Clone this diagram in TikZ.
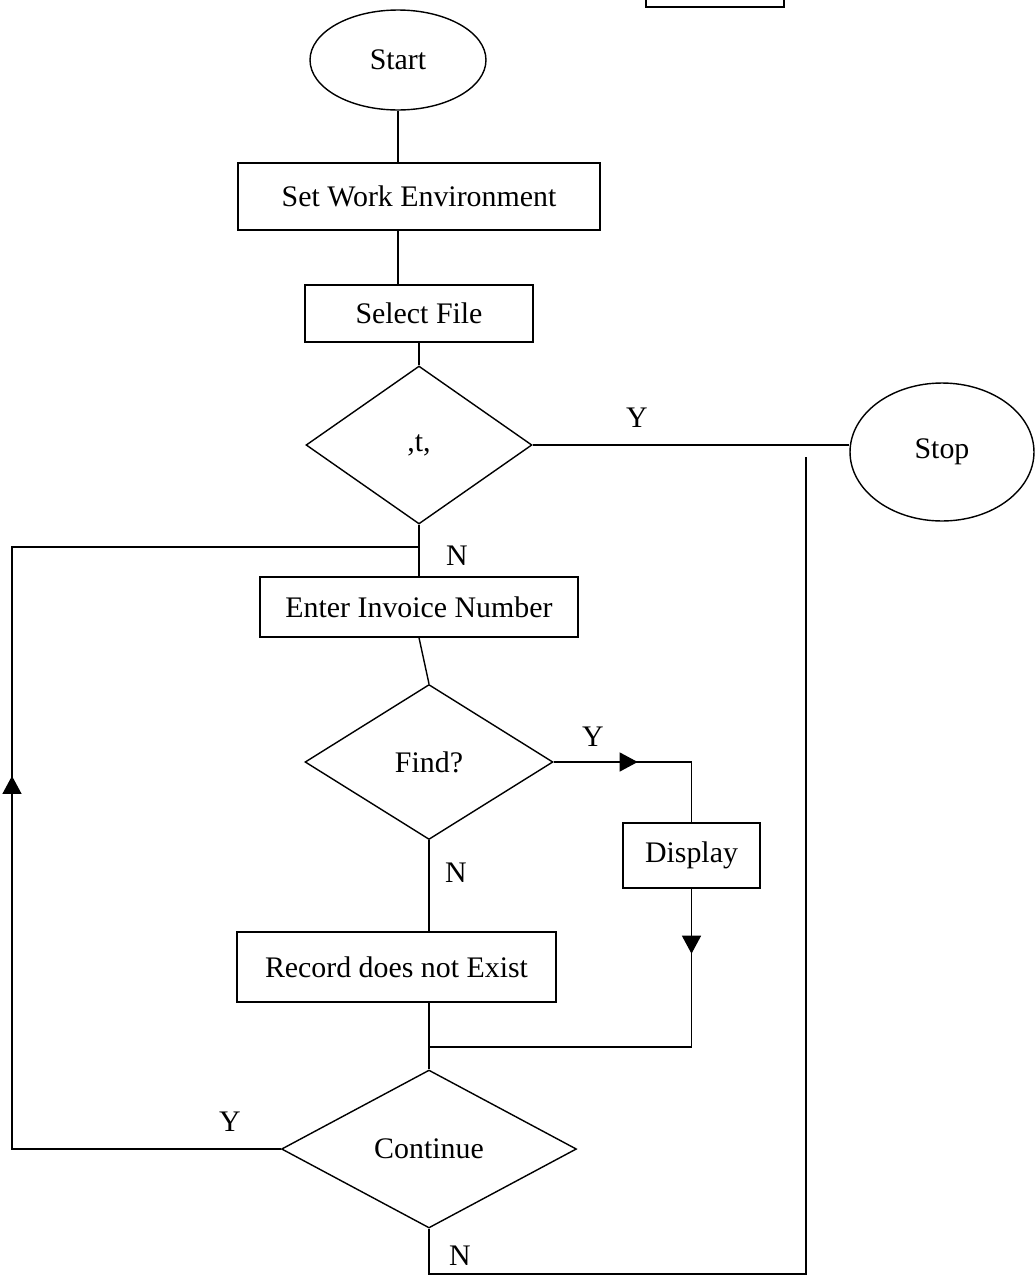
\documentclass[tikz,border=0pt]{standalone}
\usepackage{fontspec}
\setmainfont{Liberation Serif}
\usetikzlibrary{shapes.geometric,arrows.meta,decorations.markings}
\begin{document}
\begin{tikzpicture}[x=0.02cm,y=-0.02cm,
  line width=0.8pt,
  every node/.style={font=\fontsize{17}{20}\selectfont},
  boxnode/.style={draw,rectangle,inner sep=0pt},
  termnode/.style={draw,ellipse,inner sep=0pt},
  decnode/.style={draw,diamond,inner sep=0pt},
  lbl/.style={inner sep=0pt},
  arrowat/.style={postaction={decorate,decoration={markings,
     mark=at position #1 with {\arrow{Triangle[length=0.36cm,width=0.38cm]}}}}}
]
\useasboundingbox (0,0) rectangle (1035,1278);
\clip (0,0) rectangle (1035,1278);
\fill[white] (0,0) rectangle (1035,1278);

% partial box at top
\node[boxnode,minimum width=2.76cm,minimum height=1.2cm] (topbox) at (715,-23) {};

\node[termnode,minimum width=3.52cm,minimum height=2cm] (start) at (398,60) {Start};
\node[boxnode,minimum width=7.24cm,minimum height=1.34cm] (setwork) at (419,196.5) {Set Work Environment};
\node[boxnode,minimum width=4.56cm,minimum height=1.14cm] (select) at (419,313.5) {Select File};
\node[decnode,minimum width=4.52cm,minimum height=3.16cm] (d1) at (419,445) {,t,};
\node[termnode,minimum width=3.68cm,minimum height=2.76cm] (stop) at (942,452) {Stop};
\node[boxnode,minimum width=6.36cm,minimum height=1.2cm] (enter) at (419,607) {Enter Invoice Number};
\node[decnode,minimum width=4.96cm,minimum height=3.1cm] (find) at (429,762) {Find?};
\node[boxnode,minimum width=2.74cm,minimum height=1.3cm] (display) at (691.5,855.5) {Display};
\node[boxnode,minimum width=6.38cm,minimum height=1.4cm] (record) at (396.5,967) {Record does not Exist};
\node[decnode,minimum width=5.9cm,minimum height=3.16cm] (cont) at (429,1149) {Continue};

% coordinates for bends
\coordinate (loopend) at (419,547);
\coordinate (leftbot) at (12,1149);
\coordinate (lefttop) at (12,547);
\coordinate (merge) at (429,1047);
\coordinate (rbot) at (806,1274);
\coordinate (rtop) at (806,457);

% connectors
\draw (start.south) -- (start.south |- setwork.north);
\draw (setwork.south -| start.south) -- (select.north -| start.south);
\draw (select.south) -- (d1.north);
\draw (d1.east) -- (d1.east -| stop.west);
\draw (d1.south) -- (enter.north);
\draw (enter.south) -- (find.north);
\draw[arrowat=1.68cm] (find.east) -- (find.east -| display.north) -- (display.north);
\draw (find.south) -- (find.south |- record.north);
\draw[arrowat=1.3cm] (display.south) -- (display.south |- merge) -- (merge);
\draw (cont.north |- record.south) -- (cont.north);
\draw[arrowat=12.84cm] (cont.west) -- (leftbot) -- (lefttop) -- (loopend);
\draw (cont.south) -- (cont.south |- rbot) -- (rbot) -- (rtop);

% labels
\node[lbl] (y1) at (637,418) {Y};
\node[lbl] (n1) at (457,556) {N};
\node[lbl] (y2) at (593,737) {Y};
\node[lbl] (n2) at (456,873) {N};
\node[lbl] (y3) at (230,1122) {Y};
\node[lbl] (n3) at (460,1256) {N};
\end{tikzpicture}
\end{document}
